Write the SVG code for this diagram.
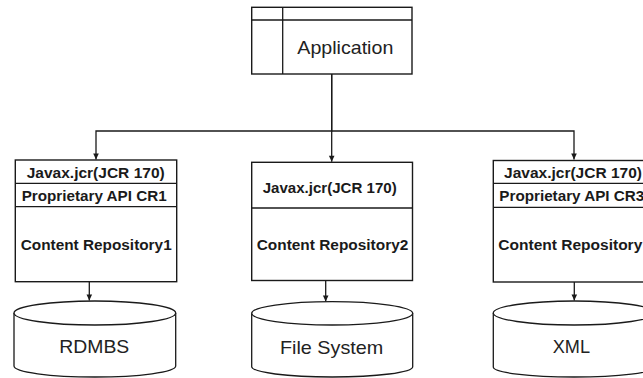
<svg xmlns="http://www.w3.org/2000/svg" width="643" height="378" viewBox="0 0 643 378">
  <style>
    .box { fill: #ffffff; stroke: #1a1a1a; stroke-width: 1.4; }
    .div { stroke: #1a1a1a; stroke-width: 1.3; fill: none; }
    .conn { stroke: #1a1a1a; stroke-width: 1.3; fill: none; }
    .db { fill: #ffffff; stroke: #1a1a1a; stroke-width: 1.3; }
    .api { font-family: "Liberation Sans", Arial, sans-serif; font-size: 14px; font-weight: bold; fill: #1a1a1a; }
    .lbl { font-family: "Liberation Sans", Arial, sans-serif; font-size: 19px; fill: #222222; }
  </style>
  <defs>
    <marker id="arrow" markerUnits="userSpaceOnUse" markerWidth="8" markerHeight="8" viewBox="0 0 8 8" refX="7" refY="4" orient="auto">
      <path d="M1,1.2 L7,4 L1,6.8 Z" fill="#1a1a1a"/>
    </marker>
  </defs>

  <rect width="643" height="378" fill="#ffffff"/>

  <!-- connectors -->
  <g id="connectors">
    <path class="conn" d="M331.7,74 V131 H96 V159.5" marker-end="url(#arrow)"/>
    <path class="conn" d="M331.7,131 H574 V159.5" marker-end="url(#arrow)"/>
    <path class="conn" d="M331.7,74 V161.8" marker-end="url(#arrow)"/>
    <path class="conn" d="M89.3,281.7 V300.5" marker-end="url(#arrow)"/>
    <path class="conn" d="M325.7,280.5 V301.5" marker-end="url(#arrow)"/>
    <path class="conn" d="M574.3,282 V300.5" marker-end="url(#arrow)"/>
  </g>

  <!-- application -->
  <g id="application">
    <rect class="box" x="251.7" y="7.3" width="160.3" height="66.7"/>
    <path class="div" d="M251.7,20 H412 M282.7,7.3 V74"/>
    <text class="lbl" x="297.3" y="54" textLength="96" lengthAdjust="spacingAndGlyphs">Application</text>
  </g>

  <!-- repository 1 -->
  <g id="repo1">
    <rect class="box" x="15.3" y="160" width="161.4" height="121.7"/>
    <path class="div" d="M15.3,183.3 H176.7 M15.3,206.7 H176.7"/>
    <text class="api" x="26.7" y="178" textLength="138" lengthAdjust="spacingAndGlyphs">Javax.jcr(JCR 170)</text>
    <text class="api" x="21.7" y="201" textLength="145" lengthAdjust="spacingAndGlyphs">Proprietary API CR1</text>
    <text class="api" x="20.7" y="250" textLength="151" lengthAdjust="spacingAndGlyphs">Content Repository1</text>
  </g>

  <!-- repository 2 -->
  <g id="repo2">
    <rect class="box" x="251.7" y="162.3" width="160.8" height="118.2"/>
    <path class="div" d="M251.7,208 H412.5"/>
    <text class="api" x="262.7" y="193" textLength="134" lengthAdjust="spacingAndGlyphs">Javax.jcr(JCR 170)</text>
    <text class="api" x="256.7" y="250" textLength="151.6" lengthAdjust="spacingAndGlyphs">Content Repository2</text>
  </g>

  <!-- repository 3 -->
  <g id="repo3">
    <rect class="box" x="493.3" y="160.5" width="161.4" height="121.5"/>
    <path class="div" d="M493.3,183.3 H655 M493.3,207.3 H655"/>
    <text class="api" x="504" y="178" textLength="138" lengthAdjust="spacingAndGlyphs">Javax.jcr(JCR 170)</text>
    <text class="api" x="499.3" y="201" textLength="145" lengthAdjust="spacingAndGlyphs">Proprietary API CR3</text>
    <text class="api" x="498.3" y="250" textLength="144" lengthAdjust="spacingAndGlyphs">Content Repository</text>
  </g>

  <!-- storage: RDBMS -->
  <g id="rdmbs">
    <path class="db" d="M14,313 V366 A80.85,11 0 0 0 175.7,366 V313"/>
    <ellipse class="db" cx="94.85" cy="313" rx="80.85" ry="12"/>
    <text class="lbl" x="59.3" y="353" textLength="70" lengthAdjust="spacingAndGlyphs">RDMBS</text>
  </g>

  <!-- storage: file system -->
  <g id="filesystem">
    <path class="db" d="M251.7,313.3 V366.7 A80.5,10.3 0 0 0 412.7,366.7 V313.3"/>
    <ellipse class="db" cx="332.2" cy="313.3" rx="80.5" ry="11.7"/>
    <text class="lbl" x="280" y="354" textLength="103.3" lengthAdjust="spacingAndGlyphs">File System</text>
  </g>

  <!-- storage: XML -->
  <g id="xml">
    <path class="db" d="M493.3,313 V367 A80.8,10 0 0 0 654.9,367 V313"/>
    <ellipse class="db" cx="574.1" cy="313" rx="80.8" ry="12"/>
    <text class="lbl" x="552.7" y="353.3" textLength="37.3" lengthAdjust="spacingAndGlyphs">XML</text>
  </g>
</svg>
